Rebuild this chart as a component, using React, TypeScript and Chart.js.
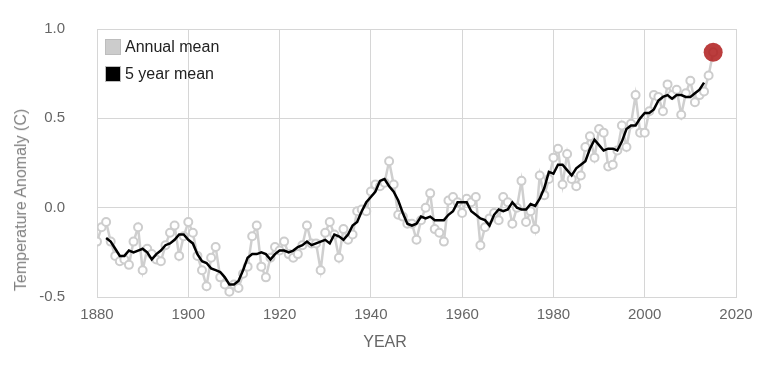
import React, { useEffect, useRef } from "react";
import { Chart, registerables } from "chart.js";

Chart.register(...registerables);

const FIRST_YEAR = 1880;
const FIVE_YEAR_FIRST = 1882;

// Annual mean temperature anomaly (C), 1880–2015
const annualMean = [
  -0.19, -0.11, -0.08, -0.19, -0.27, -0.30, -0.29, -0.32, -0.19, -0.11,
  -0.35, -0.23, -0.26, -0.29, -0.30, -0.21, -0.14, -0.10, -0.27, -0.16,
  -0.08, -0.14, -0.27, -0.35, -0.44, -0.28, -0.22, -0.39, -0.43, -0.47,
  -0.43, -0.45, -0.37, -0.33, -0.16, -0.10, -0.33, -0.39, -0.28, -0.22,
  -0.24, -0.19, -0.26, -0.28, -0.26, -0.21, -0.10, -0.20, -0.20, -0.35,
  -0.14, -0.08, -0.15, -0.28, -0.12, -0.18, -0.15, -0.02, -0.01, -0.02,
  0.09, 0.13, 0.12, 0.14, 0.26, 0.13, -0.04, -0.05, -0.09, -0.09,
  -0.18, -0.07, 0.00, 0.08, -0.12, -0.14, -0.19, 0.04, 0.06, 0.03,
  -0.03, 0.05, 0.03, 0.06, -0.21, -0.11, -0.06, -0.03, -0.07, 0.06,
  0.03, -0.09, 0.00, 0.15, -0.08, -0.02, -0.12, 0.18, 0.07, 0.16,
  0.28, 0.33, 0.13, 0.30, 0.16, 0.12, 0.18, 0.34, 0.40, 0.28,
  0.44, 0.42, 0.23, 0.24, 0.32, 0.46, 0.34, 0.47, 0.63, 0.42,
  0.42, 0.54, 0.63, 0.62, 0.54, 0.69, 0.63, 0.66, 0.52, 0.64,
  0.71, 0.59, 0.63, 0.65, 0.74, 0.87,
];

// 5 year mean (C), 1882–2013
const fiveYearMean = [
  -0.17, -0.19, -0.23, -0.27, -0.27, -0.24, -0.25, -0.24,
  -0.23, -0.25, -0.29, -0.26, -0.24, -0.21, -0.20, -0.18, -0.15, -0.15,
  -0.18, -0.20, -0.26, -0.30, -0.31, -0.34, -0.35, -0.36, -0.39, -0.43,
  -0.43, -0.41, -0.35, -0.28, -0.26, -0.26, -0.25, -0.26, -0.29, -0.26,
  -0.24, -0.24, -0.25, -0.24, -0.22, -0.21, -0.19, -0.21, -0.20, -0.19,
  -0.18, -0.20, -0.15, -0.16, -0.18, -0.15, -0.10, -0.08, -0.02, 0.03,
  0.06, 0.09, 0.15, 0.16, 0.12, 0.09, 0.04, -0.03, -0.09, -0.10,
  -0.09, -0.05, -0.06, -0.05, -0.07, -0.07, -0.07, -0.04, -0.02, 0.03,
  0.03, 0.03, -0.02, -0.04, -0.06, -0.07, -0.10, -0.04, -0.01, -0.02,
  -0.01, 0.03, 0.00, -0.01, -0.01, 0.02, 0.01, 0.05, 0.11, 0.20,
  0.19, 0.24, 0.24, 0.21, 0.18, 0.22, 0.24, 0.26, 0.33, 0.38,
  0.35, 0.32, 0.33, 0.33, 0.32, 0.37, 0.44, 0.46, 0.46, 0.50,
  0.53, 0.53, 0.55, 0.60, 0.62, 0.63, 0.61, 0.63, 0.63, 0.62,
  0.62, 0.64, 0.66, 0.70,
];

const highlightYear = [2015];
const highlightValue = [0.87];

const xTicks = [1880, 1900, 1920, 1940, 1960, 1980, 2000, 2020];
const yTicks = [-0.5, 0.0, 0.5, 1.0];

const FONT = "'Liberation Sans', Arial, Helvetica, sans-serif";
const GRID = "#d6d6d6";

export default function App() {
  const ref = useRef<HTMLCanvasElement>(null);

  useEffect(() => {
    const annual = annualMean.map((v, i) => ({ x: FIRST_YEAR + i, y: v }));
    const five = fiveYearMean.map((v, i) => ({ x: FIVE_YEAR_FIRST + i, y: v }));
    const hi = highlightYear.map((yr, i) => ({ x: yr, y: highlightValue[i] }));

    const chart = new Chart(ref.current!, {
      type: "line",
      data: {
        datasets: [
          {
            label: "Annual mean",
            data: annual,
            borderColor: "#cfcfcf",
            borderWidth: 2.5,
            pointRadius: 4,
            pointBorderWidth: 2,
            pointBorderColor: "#cdcdcd",
            pointBackgroundColor: "#ffffff",
            tension: 0,
            order: 3,
          },
          {
            label: "5 year mean",
            data: five,
            borderColor: "#000000",
            borderWidth: 2.5,
            pointRadius: 0,
            tension: 0,
            order: 2,
          },
          {
            label: "2015",
            data: hi,
            showLine: false,
            pointRadius: 9.5,
            pointBorderWidth: 0,
            pointBackgroundColor: "rgba(178,34,34,0.88)",
            pointBorderColor: "rgba(178,34,34,0.88)",
            order: 1,
          },
        ],
      },
      options: {
        animation: false,
        responsive: false,
        maintainAspectRatio: false,
        devicePixelRatio: 1,
        layout: { padding: { left: 0, top: 29, right: 30, bottom: 0 } },
        plugins: {
          legend: { display: false },
          tooltip: { enabled: false },
        },
        scales: {
          x: {
            type: "linear",
            min: xTicks[0],
            max: xTicks[xTicks.length - 1],
            afterBuildTicks: (s: any) => {
              s.ticks = xTicks.map((v) => ({ value: v }));
            },
            afterFit: (s: any) => {
              s.height = 70;
              s.paddingLeft = 0;
              s.paddingRight = 0;
            },
            ticks: {
              callback: (v: any) => String(v),
              color: "#666",
              font: { family: FONT, size: 15 },
              padding: 9,
              maxRotation: 0,
            },
            grid: { color: GRID, drawTicks: false, lineWidth: 1 },
            border: { color: GRID },
          },
          y: {
            type: "linear",
            min: yTicks[0],
            max: yTicks[yTicks.length - 1],
            afterBuildTicks: (s: any) => {
              s.ticks = yTicks.map((v) => ({ value: v }));
            },
            afterFit: (s: any) => {
              s.width = 97;
              s.paddingTop = 0;
              s.paddingBottom = 0;
            },
            ticks: {
              callback: (v: any) => Number(v).toFixed(1),
              color: "#666",
              font: { family: FONT, size: 15 },
              padding: 32,
            },
            grid: { color: GRID, drawTicks: false, lineWidth: 1 },
            border: { color: GRID },
          },
        },
      },
    });
    return () => chart.destroy();
  }, []);

  const legendRow = (top: number, fill: string, label: string) => (
    <div
      style={{
        position: "absolute",
        left: 105,
        top,
        height: 16,
        display: "flex",
        alignItems: "center",
        fontFamily: FONT,
        fontSize: 16,
        color: "#222",
        whiteSpace: "nowrap",
      }}
    >
      <span
        style={{
          display: "inline-block",
          width: 14,
          height: 14,
          background: fill,
          border: "1px solid #bdbdbd",
          marginRight: 4,
        }}
      />
      <span>{label}</span>
    </div>
  );

  return (
    <div
      style={{
        position: "fixed",
        left: 0,
        top: 0,
        width: 766,
        height: 367,
        background: "#fff",
        overflow: "hidden",
      }}
    >
      <canvas
        ref={ref}
        width={766}
        height={367}
        style={{ position: "absolute", left: 0, top: 0, width: 766, height: 367 }}
      />
      {legendRow(39, "#cccccc", "Annual mean")}
      {legendRow(66, "#000000", "5 year mean")}
      <div
        style={{
          position: "absolute",
          left: 21,
          top: 200,
          transform: "translate(-50%, -50%) rotate(-90deg)",
          fontFamily: FONT,
          fontSize: 16,
          fontWeight: 400,
          color: "#808080",
          whiteSpace: "nowrap",
        }}
      >
        Temperature Anomaly (C)
      </div>
      <div
        style={{
          position: "absolute",
          left: 385,
          top: 342,
          transform: "translate(-50%, -50%)",
          fontFamily: FONT,
          fontSize: 16,
          color: "#666",
          whiteSpace: "nowrap",
        }}
      >
        YEAR
      </div>
    </div>
  );
}
